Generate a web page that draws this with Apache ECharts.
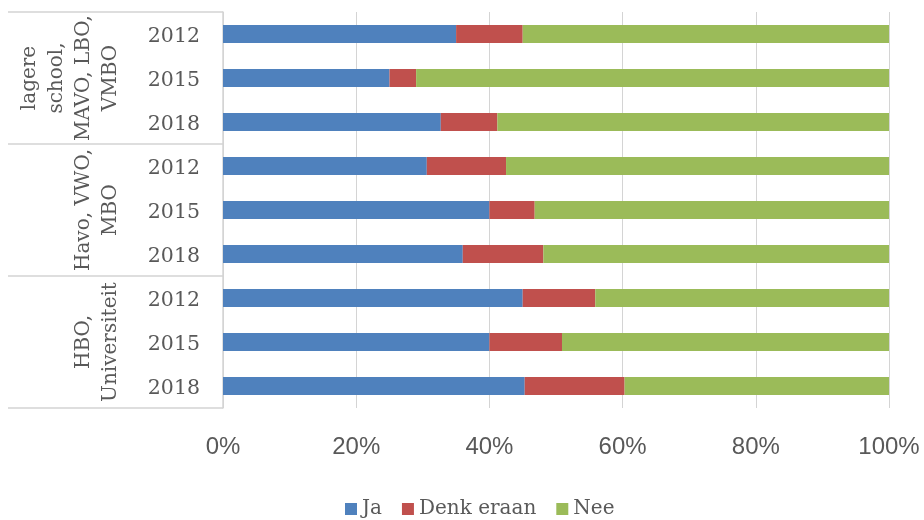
<!DOCTYPE html>
<html>
<head>
<meta charset="utf-8">
<script src="https://cdn.jsdelivr.net/npm/echarts@6/dist/echarts.min.js"></script>
<style>
html,body{margin:0;padding:0;background:#fff;}
#chart{width:924px;height:520px;}
</style>
</head>
<body>
<div id="chart"></div>
<script>
const groups = ['lagere\nschool,\nMAVO, LBO,\nVMBO', 'Havo, VWO,\nMBO', 'HBO,\nUniversiteit'];
const yearLabels = ['2012', '2015', '2018', '2012', '2015', '2018', '2012', '2015', '2018'];
const seriesNames = ['Ja', 'Denk eraan', 'Nee'];
const ja = [35, 25, 32.7, 30.6, 40, 36, 45, 40, 45.3];
const denk = [10, 4, 8.5, 11.9, 6.8, 12.1, 10.9, 10.9, 15];
const nee = [55, 71, 58.8, 57.5, 53.2, 51.9, 44.1, 49.1, 39.7];
const xTicks = [0, 20, 40, 60, 80, 100];

const colors = ['#4f81bd', '#c0504d', '#9bbb59'];
const catKeys = yearLabels.map((y, i) => 'c' + i);
const lineColor = '#d4d4d4';
const textColor = '#595959';

const chart = echarts.init(document.getElementById('chart'), null, {renderer: 'canvas'});
chart.setOption({
  animation: false,
  color: colors,
  grid: {left: 223, right: 35, top: 12, bottom: 112, containLabel: false},
  legend: {
    left: 345, top: 499, padding: 0,
    itemWidth: 12, itemHeight: 12, itemGap: 20,
    icon: 'rect',
    textStyle: {fontFamily: 'DejaVu Serif', fontSize: 20, color: textColor},
    data: seriesNames
  },
  xAxis: {
    type: 'value', min: xTicks[0], max: xTicks[xTicks.length - 1], interval: 20,
    axisLine: {show: false}, axisTick: {show: false},
    splitLine: {show: true, lineStyle: {color: lineColor, width: 1}},
    axisLabel: {formatter: '{value}%', fontFamily: 'Liberation Sans', fontSize: 24, color: textColor, margin: 27}
  },
  yAxis: [
    {
      type: 'category', position: 'left', inverse: true, data: catKeys,
      axisLine: {show: false}, axisTick: {show: false}, splitLine: {show: false},
      axisLabel: {
        interval: 0,
        formatter: (v, i) => '{y|' + yearLabels[i] + '}',
        margin: 23,
        rich: {y: {fontFamily: 'DejaVu Serif', fontSize: 20.5, color: textColor, padding: [5, 0, 0, 0]}}
      }
    },
    {
      type: 'category', position: 'left', inverse: true, data: groups,
      axisLine: {show: true, lineStyle: {color: lineColor, width: 1.5}},
      axisTick: {show: true, interval: 0, length: 215, inside: false, lineStyle: {color: lineColor, width: 1.5}},
      splitLine: {show: false},
      axisLabel: {
        interval: 0, hideOverlap: false,
        rotate: 90, align: 'center', verticalAlign: 'bottom',
        fontFamily: 'DejaVu Serif', fontSize: 20, lineHeight: 27, color: textColor, margin: 99
      }
    }
  ],
  series: [ja, denk, nee].map((d, i) => ({
    name: seriesNames[i], type: 'bar', stack: 'total', yAxisIndex: 0,
    barWidth: 18, data: d
  }))
});
</script>
</body>
</html>
